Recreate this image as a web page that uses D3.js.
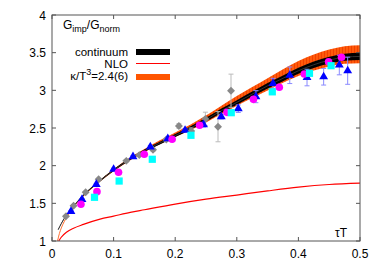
<!DOCTYPE html>
<html><head><meta charset="utf-8">
<script src="https://cdn.jsdelivr.net/npm/d3@7"></script>
<style>body{margin:0;background:#fff}svg{display:block;font-family:"Liberation Sans",Arial,sans-serif}</style>
</head><body><svg id="c" width="382" height="267"></svg>
<script>
// ---- data ----
const xTicks = [0, 0.1, 0.2, 0.3, 0.4, 0.5];
const xTickLabels = ["0", "0.1", "0.2", "0.3", "0.4", "0.5"];
const yTicks = [1, 1.5, 2, 2.5, 3, 3.5, 4];
const yTickLabels = ["1", "1.5", "2", "2.5", "3", "3.5", "4"];

const contX   = [0.01,0.015,0.02,0.03,0.04,0.05,0.075,0.1,0.125,0.15,0.175,0.2,0.225,0.25,0.275,0.3,0.325,0.35,0.375,0.4,0.425,0.45,0.475,0.5];
const contMid = [1.15,1.23,1.30,1.41,1.51,1.60,1.78,1.94,2.08,2.20,2.30,2.40,2.50,2.61,2.73,2.84,2.95,3.06,3.16,3.26,3.34,3.40,3.44,3.45];
const contErr = [0.005,0.005,0.005,0.006,0.007,0.008,0.01,0.012,0.014,0.016,0.018,0.02,0.022,0.025,0.028,0.03,0.033,0.036,0.038,0.04,0.043,0.045,0.047,0.048];

const kapX   = [0.009,0.012,0.015,0.02,0.03,0.04,0.05,0.075,0.1,0.125,0.15,0.175,0.2,0.225,0.25,0.275,0.3,0.325,0.35,0.375,0.4,0.425,0.45,0.475,0.5];
const kapMid = [1.0,1.10,1.17,1.26,1.39,1.50,1.59,1.78,1.94,2.08,2.20,2.31,2.41,2.51,2.62,2.74,2.86,2.97,3.08,3.19,3.29,3.37,3.43,3.47,3.48];
const kapErr = [0.002,0.003,0.003,0.004,0.005,0.006,0.007,0.01,0.013,0.017,0.021,0.026,0.031,0.038,0.046,0.055,0.064,0.073,0.082,0.09,0.1,0.107,0.112,0.116,0.12];

const nloX = [0.011,0.015,0.024,0.035,0.051,0.078,0.1,0.127,0.15,0.2,0.25,0.3,0.35,0.4,0.45,0.5];
const nloY = [1.0,1.05,1.12,1.17,1.22,1.29,1.33,1.38,1.415,1.49,1.555,1.61,1.665,1.715,1.75,1.767];

const diaX = [0.0227,0.035,0.0546,0.0757,0.1206,0.1417,0.164,0.1856,0.206,0.226,0.249,0.2695,0.2906];
const diaY = [1.328,1.468,1.646,1.819,2.064,2.14,2.212,2.347,2.527,2.46,2.62,2.517,2.995];
const diaE = [0.01,0.01,0.01,0.01,0.015,0.015,0.02,0.02,0.03,0.04,0.09,0.2,0.22];

const triX = [0.0308,0.0487,0.0719,0.1,0.1315,0.1596,0.188,0.216,0.246,0.2748,0.3024,0.331,0.3588,0.386,0.414,0.441,0.4664,0.48];
const triY = [1.394,1.553,1.752,1.952,2.12,2.248,2.358,2.47,2.544,2.65,2.756,2.916,3.093,3.2,3.17,3.18,3.336,3.26];
const triE = [0.01,0.01,0.01,0.015,0.015,0.02,0.02,0.02,0.03,0.03,0.05,0.08,0.066,0.11,0.11,0.11,0.13,0.18];

const cirX = [0.047,0.073,0.108,0.1498,0.195,0.2396,0.284,0.327,0.369,0.4096,0.449,0.470];
const cirY = [1.487,1.655,1.912,2.151,2.35,2.536,2.708,2.88,3.04,3.217,3.38,3.44];

const sqX = [0.069,0.109,0.1628,0.2256,0.291,0.3576,0.418,0.453];
const sqY = [1.58,1.796,2.085,2.403,2.703,2.98,3.226,3.327];

const legendLabels = ["continuum", "NLO", "κ/T3=2.4(6)"];

// ---- drawing ----
const svg = d3.select("#c");
const L = 52, R = 360, T = 15, B = 241;
const x = d3.scaleLinear().domain([0, 0.5]).range([L, R]);
const y = d3.scaleLinear().domain([1, 4]).range([B, T]);

const defs = svg.append("defs");
defs.append("clipPath").attr("id","clip")
  .append("rect").attr("x",L).attr("y",T).attr("width",R-L).attr("height",B-T);
const pat = defs.append("pattern").attr("id","orng").attr("patternUnits","userSpaceOnUse")
  .attr("width",3).attr("height",10);
pat.append("rect").attr("width",3).attr("height",10).attr("fill","#ff5a0a");
pat.append("rect").attr("width",1).attr("height",10).attr("fill","#f04000");
const plot = svg.append("g").attr("clip-path","url(#clip)");

// orange band
const kap = kapX.map((v,i)=>({x:v, lo:kapMid[i]-kapErr[i], hi:kapMid[i]+kapErr[i], m:kapMid[i]}));
plot.append("path").datum(kap)
  .attr("d", d3.area().x(d=>x(d.x)).y0(d=>y(d.lo)).y1(d=>y(d.hi)).curve(d3.curveMonotoneX))
  .attr("fill","url(#orng)");
plot.append("path").datum(kap)
  .attr("d", d3.line().x(d=>x(d.x)).y(d=>y(d.m)).curve(d3.curveMonotoneX))
  .attr("fill","none").attr("stroke","#ff7a40").attr("stroke-width",1);

// black continuum band
const cont = contX.map((v,i)=>({x:v, lo:contMid[i]-contErr[i], hi:contMid[i]+contErr[i], m:contMid[i]}));
plot.append("path").datum(cont)
  .attr("d", d3.area().x(d=>x(d.x)).y0(d=>y(d.lo)).y1(d=>y(d.hi)).curve(d3.curveMonotoneX))
  .attr("fill","#000");
plot.append("path").datum(cont)
  .attr("d", d3.line().x(d=>x(d.x)).y(d=>y(d.m)).curve(d3.curveMonotoneX))
  .attr("fill","none").attr("stroke","#333").attr("stroke-width",1);

// NLO
plot.append("path").datum(nloX.map((v,i)=>[v,nloY[i]]))
  .attr("d", d3.line().x(d=>x(d[0])).y(d=>y(d[1])).curve(d3.curveMonotoneX))
  .attr("fill","none").attr("stroke","#ff0000").attr("stroke-width",1.2);

// error bars
function errBars(xs, ys, es, color){
  const g = plot.append("g").attr("stroke",color).attr("stroke-width",1).attr("fill","none");
  xs.forEach((v,i)=>{
    const px = x(v), y1 = y(ys[i]-es[i]), y2 = y(ys[i]+es[i]);
    g.append("line").attr("x1",px).attr("x2",px).attr("y1",y1).attr("y2",y2);
    g.append("line").attr("x1",px-2.5).attr("x2",px+2.5).attr("y1",y1).attr("y2",y1);
    g.append("line").attr("x1",px-2.5).attr("x2",px+2.5).attr("y1",y2).attr("y2",y2);
  });
}
errBars(diaX, diaY, diaE, "#bbbbbb");
errBars(triX, triY, triE, "#8a8aff");

// diamonds
plot.append("g").selectAll("path").data(diaX.map((v,i)=>[v,diaY[i]])).join("path")
  .attr("d", d3.symbol(d3.symbolDiamond2, 40))
  .attr("transform", d=>`translate(${x(d[0])},${y(d[1])})`)
  .attr("fill","#888888");
// triangles
plot.append("g").selectAll("path").data(triX.map((v,i)=>[v,triY[i]])).join("path")
  .attr("d", d3.symbol(d3.symbolTriangle, 34))
  .attr("transform", d=>`translate(${x(d[0])},${y(d[1])})`)
  .attr("fill","#0000ff");
// circles
plot.append("g").selectAll("circle").data(cirX.map((v,i)=>[v,cirY[i]])).join("circle")
  .attr("cx", d=>x(d[0])).attr("cy", d=>y(d[1])).attr("r",3.8)
  .attr("fill","#ff00ff");
// squares
plot.append("g").selectAll("rect").data(sqX.map((v,i)=>[v,sqY[i]])).join("rect")
  .attr("x", d=>x(d[0])-3.6).attr("y", d=>y(d[1])-3.6).attr("width",7.2).attr("height",7.2)
  .attr("fill","#00ffff");

// frame and ticks
const fg = svg.append("g").attr("stroke","#555").attr("stroke-width",1);
fg.append("rect").attr("x",L).attr("y",T).attr("width",R-L).attr("height",B-T).attr("fill","none");
xTicks.forEach(t=>{
  fg.append("line").attr("x1",x(t)).attr("x2",x(t)).attr("y1",B).attr("y2",B-4);
  fg.append("line").attr("x1",x(t)).attr("x2",x(t)).attr("y1",T).attr("y2",T+4);
});
yTicks.forEach(t=>{
  fg.append("line").attr("x1",L).attr("x2",L+4).attr("y1",y(t)).attr("y2",y(t));
  fg.append("line").attr("x1",R).attr("x2",R-4).attr("y1",y(t)).attr("y2",y(t));
});
const tg = svg.append("g").attr("font-size",12).attr("fill","#000");
xTicks.forEach((t,i)=>tg.append("text").attr("x",x(t)).attr("y",258).attr("text-anchor","middle").text(xTickLabels[i]));
yTicks.forEach((t,i)=>tg.append("text").attr("x",46).attr("y",y(t)+4.5).attr("text-anchor","end").text(yTickLabels[i]));

// title label
const tl = tg.append("text").attr("x",63).attr("y",29);
tl.append("tspan").text("G");
tl.append("tspan").attr("font-size",9).attr("dy",3).text("imp");
tl.append("tspan").attr("dy",-3).text("/G");
tl.append("tspan").attr("font-size",9).attr("dy",3).text("norm");
tg.append("text").attr("x",347).attr("y",237).attr("text-anchor","end").text("τT");

// legend
const lg = tg.append("g").attr("font-size",11.5);
lg.append("text").attr("x",128).attr("y",55.5).attr("text-anchor","end").text(legendLabels[0]);
lg.append("text").attr("x",128).attr("y",67.5).attr("text-anchor","end").text(legendLabels[1]);
const kl = lg.append("text").attr("x",128).attr("y",80).attr("text-anchor","end");
kl.append("tspan").text("κ/T");
kl.append("tspan").attr("font-size",9).attr("dy",-5).text("3");
kl.append("tspan").attr("dy",5).text("=2.4(6)");
svg.append("rect").attr("x",136).attr("y",49).attr("width",34).attr("height",6).attr("fill","#000");
svg.append("line").attr("x1",136).attr("x2",170).attr("y1",63.5).attr("y2",63.5).attr("stroke","#ff0000").attr("stroke-width",1.2);
svg.append("rect").attr("x",136).attr("y",74).attr("width",34).attr("height",6).attr("fill","#ff5500");
</script></body></html>
